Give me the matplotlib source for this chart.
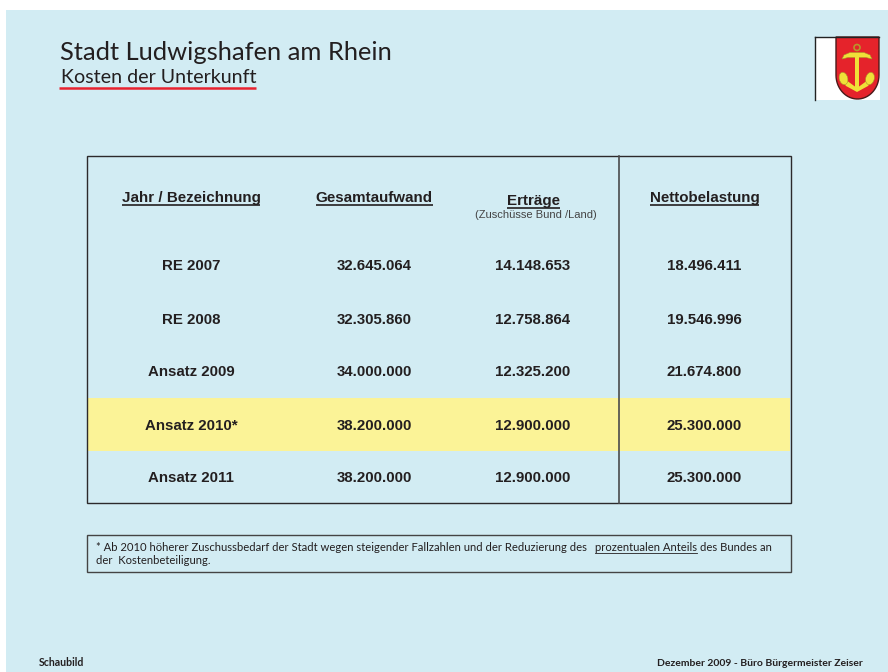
import matplotlib
matplotlib.use('Agg')
import matplotlib.pyplot as plt
import numpy as np
from matplotlib.patches import Rectangle, Polygon, Circle, Ellipse

bezeichnung = ['RE 2007', 'RE 2008', 'Ansatz 2009', 'Ansatz 2010*', 'Ansatz 2011']
gesamtaufwand = ['32.645.064', '32.305.860', '34.000.000', '38.200.000', '38.200.000']
ertraege = ['14.148.653', '12.758.864', '12.325.200', '12.900.000', '12.900.000']
nettobelastung = ['18.496.411', '19.546.996', '21.674.800', '25.300.000', '25.300.000']
spalten = ['Jahr / Bezeichnung', 'Gesamtaufwand', 'Erträge', 'Nettobelastung']

BG = '#d2ecf3'
DARK = '#231f20'
fig = plt.figure(figsize=(8.88, 6.72), dpi=100)
ax = fig.add_axes([0, 0, 1, 1])
ax.set_xlim(0, 888)
ax.set_ylim(672, 0)
ax.axis('off')

ax.add_patch(Rectangle((6, 10), 882, 662, fc=BG, ec='none'))


def right_edge(txt):
    fig.canvas.draw()
    return txt.get_window_extent().transformed(ax.transData.inverted()).x1


# heading
ax.text(60, 50, 'Stadt Ludwigshafen am Rhein', fontsize=18.35, family='Lato',
        color=DARK, va='center_baseline')
ax.text(61, 76, 'Kosten der Unterkunft', fontsize=14.1, family='Lato',
        color=DARK, va='center_baseline')
ax.plot([59, 255.5], [87.5, 87.5], color='#e8222e', lw=1.8, solid_capstyle='butt')

# crest
ax.add_patch(Rectangle((814.5, 36.5), 65, 63, fc='white', ec='none'))
ax.plot([814.5, 814.5], [36.5, 99.5], color='#222222', lw=1)
ax.plot([814.5, 879], [36.5, 36.5], color='#222222', lw=1)
t = np.linspace(0, np.pi, 30)
shield = [(836, 37), (879, 37), (879, 75)] + \
    [(857.5 + 21.5 * np.cos(a), 75 + 24 * np.sin(a)) for a in t] + [(836, 75)]
ax.add_patch(Polygon(shield, fc='#e5232b', ec='#4a1a1a', lw=1))
gold = '#f0e038'
edge = '#a8962a'
ax.add_patch(Circle((857, 47.5), 3, fc='none', ec='#b9962a', lw=1.2))
ax.add_patch(Polygon([(842, 59), (844, 55), (850, 52.5), (864, 52.5), (870, 55), (872, 59),
                      (866, 57.5), (848, 57.5)], fc=gold, ec=edge, lw=0.4))
ax.add_patch(Rectangle((855, 57), 3.8, 33, fc=gold, ec='none'))
ax.add_patch(Polygon([(840, 78), (846, 80), (857, 88), (857, 92), (846, 86)], fc=gold, ec='none'))
ax.add_patch(Polygon([(874, 78), (868, 80), (857, 88), (857, 92), (868, 86)], fc=gold, ec='none'))
ax.add_patch(Ellipse((843.5, 78.5), 8.5, 12.5, angle=-15, fc=gold, ec=edge, lw=0.4))
ax.add_patch(Ellipse((870, 78.5), 8.5, 12.5, angle=15, fc=gold, ec=edge, lw=0.4))

# table
ax.add_patch(Rectangle((86.5, 398), 703.5, 53, fc='#fbf397', ec='none'))
ax.add_patch(Rectangle((86.5, 155.5), 704, 347, fc='none', ec='#2c2a2b', lw=1.0))
ax.plot([618.7, 618.7], [155.5, 502.5], color='#4a4a4c', lw=1.2)

spalte_x = [191, 374, 533, 704.5]
zeile_y = [266.5, 319.5, 372.5, 425.5, 478.5]
for name, x in zip(spalten, spalte_x):
    y = 201 if name == 'Erträge' else 198
    txt = ax.text(x, y, name, fontsize=10.9, family='Liberation Sans', weight='bold',
                  color=DARK, ha='center', va='center')
    fig.canvas.draw()
    bb = txt.get_window_extent().transformed(ax.transData.inverted())
    ax.plot([bb.x0, bb.x1], [y + 6.5, y + 6.5], color=DARK, lw=1.2, solid_capstyle='butt')
ax.text(535.5, 215.5, '(Zuschüsse Bund /Land)', fontsize=8, family='Liberation Sans',
        color='#444444', ha='center', va='center')

for i, y in enumerate(zeile_y):
    for x, werte in zip(spalte_x, [bezeichnung, gesamtaufwand, ertraege, nettobelastung]):
        ax.text(x, y, werte[i], fontsize=10.8, family='Liberation Sans', weight='bold',
                color=DARK, ha='center', va='center')

# footnote
ax.add_patch(Rectangle((87, 534.5), 704, 37, fc='none', ec='#444444', lw=1))
FN = 8.15
zeile = '* Ab 2010 höherer Zuschussbedarf der Stadt wegen steigender Fallzahlen und der Reduzierung des'
ax.text(96, 547.5, zeile, fontsize=FN, family='Lato', color=DARK, va='center')
t2 = ax.text(595, 547.5, 'prozentualen Anteils', fontsize=FN, family='Lato',
             color=DARK, va='center')
ax.plot([595, right_edge(t2)], [553, 553], color=DARK, lw=0.6)
ax.text(700, 547.5, 'des Bundes an', fontsize=FN, family='Lato', color=DARK, va='center')
ax.text(96, 560, 'der  Kostenbeteiligung.', fontsize=FN, family='Lato', color=DARK, va='center')

# footer
ax.text(39, 663, 'Schaubild', fontsize=7.6, family='Lato', weight='bold',
        color=DARK, va='center')
ax.text(863, 663, 'Dezember 2009 - Büro Bürgermeister Zeiser', fontsize=7.5,
        family='Lato', weight='bold', color=DARK, ha='right', va='center')

fig.savefig('out.png', dpi=100)
